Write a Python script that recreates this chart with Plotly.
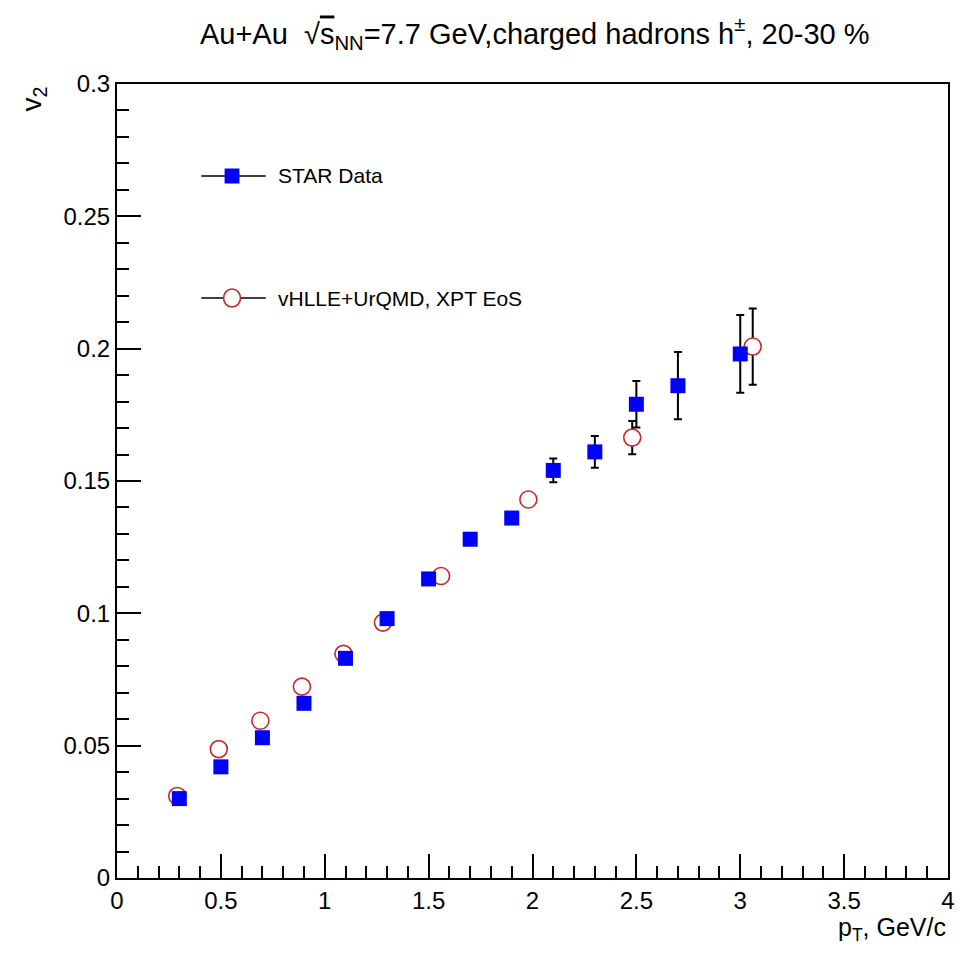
import plotly.graph_objects as go

# STAR data
star_pt = [0.3, 0.5, 0.7, 0.9, 1.1, 1.3, 1.5, 1.7, 1.9, 2.1, 2.3, 2.5, 2.7, 3.0]
star_v2 = [0.030, 0.042, 0.053, 0.066, 0.083, 0.098, 0.113, 0.128, 0.136, 0.154, 0.161, 0.179, 0.186, 0.198]
star_err = [0.001, 0.001, 0.001, 0.001, 0.001, 0.001, 0.0015, 0.002, 0.002, 0.0045, 0.006, 0.0088, 0.0127, 0.0147]

# vHLLE+UrQMD model
model_pt = [0.29, 0.49, 0.69, 0.89, 1.09, 1.28, 1.56, 1.98, 2.48, 3.06]
model_v2 = [0.031, 0.0487, 0.0594, 0.0723, 0.0847, 0.0965, 0.1141, 0.143, 0.1664, 0.2008]
model_err = [0.001, 0.001, 0.001, 0.001, 0.001, 0.001, 0.0015, 0.002, 0.0063, 0.0144]

legend_names = ["STAR Data", "vHLLE+UrQMD, XPT EoS"]

FONT = "Liberation Sans, Arial, sans-serif"
RED = "rgb(200,40,40)"
BLUE = "rgb(0,0,255)"

fig = go.Figure()

# model first (drawn underneath), white-filled circles hide error bar inside marker
fig.add_trace(go.Scatter(
    x=model_pt, y=model_v2, mode="markers", showlegend=False, name=legend_names[1],
    marker=dict(symbol="circle", size=17, color="white", line=dict(width=1.6, color=RED)),
    error_y=dict(type="data", array=model_err, color="black", thickness=2, width=4),
))
fig.add_trace(go.Scatter(
    x=star_pt, y=star_v2, mode="markers", showlegend=False, name=legend_names[0],
    marker=dict(symbol="square", size=15, color=BLUE, line=dict(width=0)),
    error_y=dict(type="data", array=star_err, color="black", thickness=2, width=4),
))

axis_common = dict(
    showgrid=False, zeroline=False, showline=True, linecolor="black", linewidth=2,
    mirror=True, ticks="inside", tickcolor="black", tickwidth=1.5,
    tickfont=dict(family=FONT, size=24, color="black"),
)

fig.update_xaxes(
    range=[0, 4], dtick=0.5, tick0=0, ticklen=24, **axis_common,
    minor=dict(dtick=0.1, ticks="inside", ticklen=12, tickcolor="black", tickwidth=1.5),
)
fig.update_yaxes(
    range=[0, 0.3], dtick=0.05, tick0=0, ticklen=24, **axis_common,
    minor=dict(dtick=0.01, ticks="inside", ticklen=12, tickcolor="black", tickwidth=1.5),
)

# manual legend (paper coordinates; plot area is 838 x 794 px)
PW, PH = 838.0, 794.0
def px(xp):
    return (xp - 117) / PW
def py(yp):
    return (878 - yp) / PH

shapes = []
annotations = []
for i, (name, ypix) in enumerate(zip(legend_names, [176, 298])):
    yc = py(ypix)
    shapes.append(dict(type="line", xref="paper", yref="paper",
                       x0=px(202), x1=px(267), y0=yc, y1=yc,
                       line=dict(color="black", width=1.5)))
    if i == 0:
        shapes.append(dict(type="rect", xref="paper", yref="paper",
                           x0=px(233 - 7.5), x1=px(233 + 7.5),
                           y0=py(ypix + 7.5), y1=py(ypix - 7.5),
                           fillcolor=BLUE, line=dict(width=0)))
    else:
        shapes.append(dict(type="circle", xref="paper", yref="paper",
                           x0=px(233 - 8.5), x1=px(233 + 8.5),
                           y0=py(ypix + 9), y1=py(ypix - 9),
                           fillcolor="white", line=dict(color=RED, width=1.6)))
    annotations.append(dict(text=name, xref="paper", yref="paper", x=px(277), y=yc,
                            xanchor="left", yanchor="middle", showarrow=False,
                            font=dict(family=FONT, size=21, color="black")))

annotations += [
    dict(text="v<sub>2</sub>", xref="paper", yref="paper", x=-0.1, y=1.0,
         xanchor="center", yanchor="top", textangle=-90, showarrow=False,
         font=dict(family=FONT, size=28, color="black")),
    dict(text="p<sub>T</sub>, GeV/c", xref="paper", yref="paper", x=1.0, y=-0.042,
         xanchor="right", yanchor="top", showarrow=False,
         font=dict(family=FONT, size=25, color="black")),
]

fig.update_layout(
    width=967, height=953,
    margin=dict(l=117, r=12, t=84, b=75),
    plot_bgcolor="white", paper_bgcolor="white",
    font=dict(family=FONT, color="black"),
    showlegend=False,
    title=dict(
        text="Au+Au  \u221a<span style='text-decoration:overline'>s</span><sub>NN</sub>=7.7 GeV,charged hadrons h<sup>\u00b1</sup>, 20-30 %",
        x=0.553, xanchor="center", y=0.965, yanchor="middle",
        font=dict(family=FONT, size=29, color="black"),
    ),
    shapes=shapes,
    annotations=annotations,
)

fig.write_html("out.html")
